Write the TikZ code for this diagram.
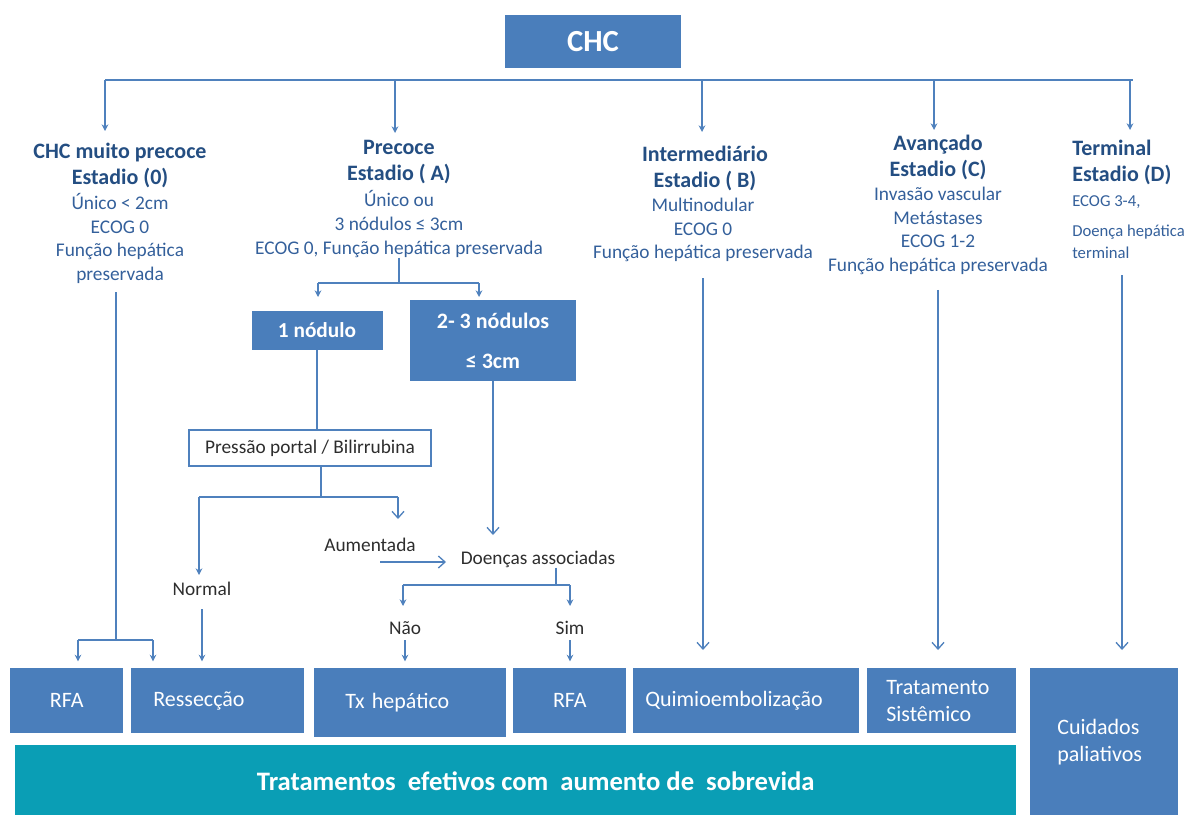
\documentclass[tikz,border=0pt]{standalone}
\usepackage{fontspec}
\setmainfont{Carlito}
\usetikzlibrary{arrows.meta, positioning}

\definecolor{boxblue}{RGB}{74,126,187}
\definecolor{barteal}{RGB}{10,158,181}
\definecolor{headblue}{RGB}{36,78,130}
\definecolor{textblue}{RGB}{52,96,155}
\definecolor{lineblue}{RGB}{79,129,189}
\definecolor{darktext}{RGB}{45,45,45}

\begin{document}
\begin{tikzpicture}
[x=0.75pt, y=-0.75pt, inner sep=0pt,
 conn/.style={draw=lineblue, line width=1pt},
 arrowfill/.style={conn, -{Stealth[length=5pt, width=5pt]}},
 arrowopen/.style={conn, -{Straight Barb[length=5pt, width=9pt]}},
 stage/.style={text=headblue, align=center, font=\bfseries\fontsize{16.5}{19.5}\selectfont},
 crit/.style={text=textblue, align=center, font=\fontsize{14.5}{17.8}\selectfont},
 choice/.style={text=darktext, font=\fontsize{14.5}{17}\selectfont},
 bluebox/.style={fill=boxblue, text=white, inner sep=0pt},
 treat/.style={bluebox, anchor=north west, align=left, font=\fontsize{16.5}{20}\selectfont}]

\useasboundingbox (0,0) rectangle (1191,814);

% top
\node[bluebox, minimum width=132pt, minimum height=39.75pt,
      font=\bfseries\fontsize{23}{27}\selectfont] (chc) at (593,41.5) {CHC};

% stages
\node[stage] (st0) at (120,165) {CHC muito precoce\\Estadio (0)};
\node[crit] (cr0) at (120,238.5) {Único < 2cm\\ECOG 0\\Função hepática\\preservada};
\node[stage] (st1) at (399,162) {Precoce\\Estadio ( A)};
\node[crit] (cr1) at (399,224) {Único ou\\3 nódulos ≤ 3cm\\ECOG 0, Função hepática preservada};
\node[stage] (st2) at (705,168) {Intermediário\\Estadio ( B)};
\node[crit] (cr2) at (703,230) {Multinodular\\ECOG 0\\Função hepática preservada};
\node[stage] (st3) at (938,157) {Avançado\\Estadio (C)};
\node[crit] (cr3) at (938,231) {Invasão vascular\\Metástases\\ECOG 1-2\\Função hepática preservada};
\node[stage, anchor=west, align=left] (st4) at (1072,162) {Terminal\\Estadio (D)};
\node[crit, anchor=west, align=left, font=\fontsize{12.5}{16.5}\selectfont] (cr4) at (1072,227)
     {ECOG 3-4,\\[6pt]Doença hepática\\terminal};

% early stage branch
\node[bluebox, minimum width=98.25pt, minimum height=29.25pt,
      font=\bfseries\fontsize{16}{19}\selectfont] (one) at (317,330.5) {1 nódulo};
\node[bluebox, minimum width=124.5pt, minimum height=60.75pt, align=center,
      font=\bfseries\fontsize{16.5}{30}\selectfont] (few) at (493,340.5) {2- 3 nódulos\\≤ 3cm};
\node[draw=lineblue, line width=0.8pt, fill=white, minimum width=181.5pt, minimum height=27pt,
      text=darktext, font=\fontsize{14.5}{17}\selectfont] (portal) at (310,448) {Pressão portal / Bilirrubina};
\node[choice] (high) at (370,545) {Aumentada};
\node[choice] (normal) at (202,589) {Normal};
\node[choice] (dis) at (538,559) {Doenças associadas};
\node[choice] (nao) at (405,628) {Não};
\node[choice] (sim) at (570,628) {Sim};

% treatments
\node[treat, minimum width=84.75pt, minimum height=48.75pt, align=center] (rfa1) at (10,668) {RFA};
\node[treat, text width=96.75pt, inner xsep=16.5pt, minimum height=48.75pt] (res) at (131,668) {Ressecção};
\node[treat, text width=97.5pt, inner xsep=23.25pt, minimum height=51.75pt] (tx) at (314,668) {Tx hepático};
\node[treat, minimum width=84.75pt, minimum height=48.75pt, align=center] (rfa2) at (513,668) {RFA};
\node[treat, text width=151.5pt, inner xsep=9pt, minimum height=48.75pt] (quim) at (633,668) {Quimioembolização};
\node[treat, text width=83.25pt, inner xsep=14.25pt, minimum height=48.75pt] (trat) at (867,668) {Tratamento\\Sistêmico};
\node[treat, text width=70.5pt, inner xsep=20.25pt, minimum height=111pt] (cuid) at (1030,668) {Cuidados\\paliativos};
\node[bluebox, fill=barteal, anchor=north west, minimum width=750.75pt, minimum height=53.25pt,
      font=\bfseries\fontsize{20}{24}\selectfont] (gain) at (15,745)
     {\hspace*{30pt}Tratamentos\ \ efetivos com\ \ aumento de\ \ sobrevida};

% bus from CHC
\coordinate (busL) at (105,80);
\coordinate (busR) at (1133,80);
\coordinate (in0) at (105,131);
\coordinate (in1) at (395,133);
\coordinate (in2) at (702,132);
\coordinate (in3) at (934,130);
\coordinate (in4) at (1130,130);
\draw[conn] (busL) -- (busR);
\draw[arrowfill] (in0 |- busL) -- (in0);
\draw[arrowfill] (in1 |- busL) -- (in1);
\draw[arrowfill] (in2 |- busL) -- (in2);
\draw[arrowfill] (in3 |- busL) -- (in3);
\draw[arrowfill] (in4 |- busL) -- (in4);

% precoce -> nodulos
\coordinate (splitA) at (399,283);
\coordinate (toOne) at (318,297);
\coordinate (toFew) at (479,297);
\draw[conn] (cr1.south) -- (splitA);
\draw[conn] (toOne |- splitA) -- (toFew |- splitA);
\draw[arrowfill] (toOne |- splitA) -- (toOne);
\draw[arrowfill] (toFew |- splitA) -- (toFew);

% 1 nodulo
\draw[conn] (one.south) -- (one.south |- portal.north);
\coordinate (splitB) at (321,497);
\coordinate (toNormal) at (199,575);
\coordinate (toHigh) at (398,519);
\draw[conn] (splitB |- portal.south) -- (splitB);
\draw[conn] (toNormal |- splitB) -- (toHigh |- splitB);
\draw[arrowfill] (toNormal |- splitB) -- (toNormal);
\draw[arrowopen] (toHigh |- splitB) -- (toHigh);
\coordinate (fromHigh) at (380,562);
\coordinate (toDis) at (446,562);
\draw[arrowopen] (fromHigh) -- (toDis);
\draw[arrowfill, shorten <=10pt, shorten >=5pt] (normal.south) -- (normal.south |- res.north);

% 2-3 nodulos
\coordinate (fewEnd) at (493,535);
\draw[arrowopen] (few.south) -- (fewEnd);
\coordinate (splitC) at (556,585);
\coordinate (toNao) at (403,606);
\coordinate (toSim) at (570,606);
\draw[conn] (splitC |- dis.south) -- (splitC);
\draw[conn] (toNao |- splitC) -- (toSim |- splitC);
\draw[arrowfill] (toNao |- splitC) -- (toNao);
\draw[arrowfill] (toSim |- splitC) -- (toSim);
\draw[arrowfill, shorten <=4pt, shorten >=5pt] (nao.south) -- (nao.south |- tx.north);
\draw[arrowfill, shorten <=4pt, shorten >=5pt] (sim.south) -- (sim.south |- rfa2.north);

% muito precoce
\coordinate (splitD) at (116,640);
\coordinate (dL) at (78,640);
\coordinate (dR) at (153,640);
\draw[conn, shorten <=6pt] (splitD |- cr0.south) -- (splitD);
\draw[conn] (dL) -- (dR);
\draw[arrowfill, shorten >=5pt] (dL) -- (dL |- rfa1.north);
\draw[arrowfill, shorten >=5pt] (dR) -- (dR |- res.north);

% B, C, D
\coordinate (d4) at (1122,275);
\draw[arrowopen, shorten <=12pt, shorten >=13.5pt] (cr2.south) -- (cr2.south |- quim.north);
\draw[arrowopen, shorten <=11pt, shorten >=13.5pt] (cr3.south) -- (cr3.south |- trat.north);
\draw[arrowopen, shorten >=13.5pt] (d4) -- (d4 |- cuid.north);

\end{tikzpicture}
\end{document}
